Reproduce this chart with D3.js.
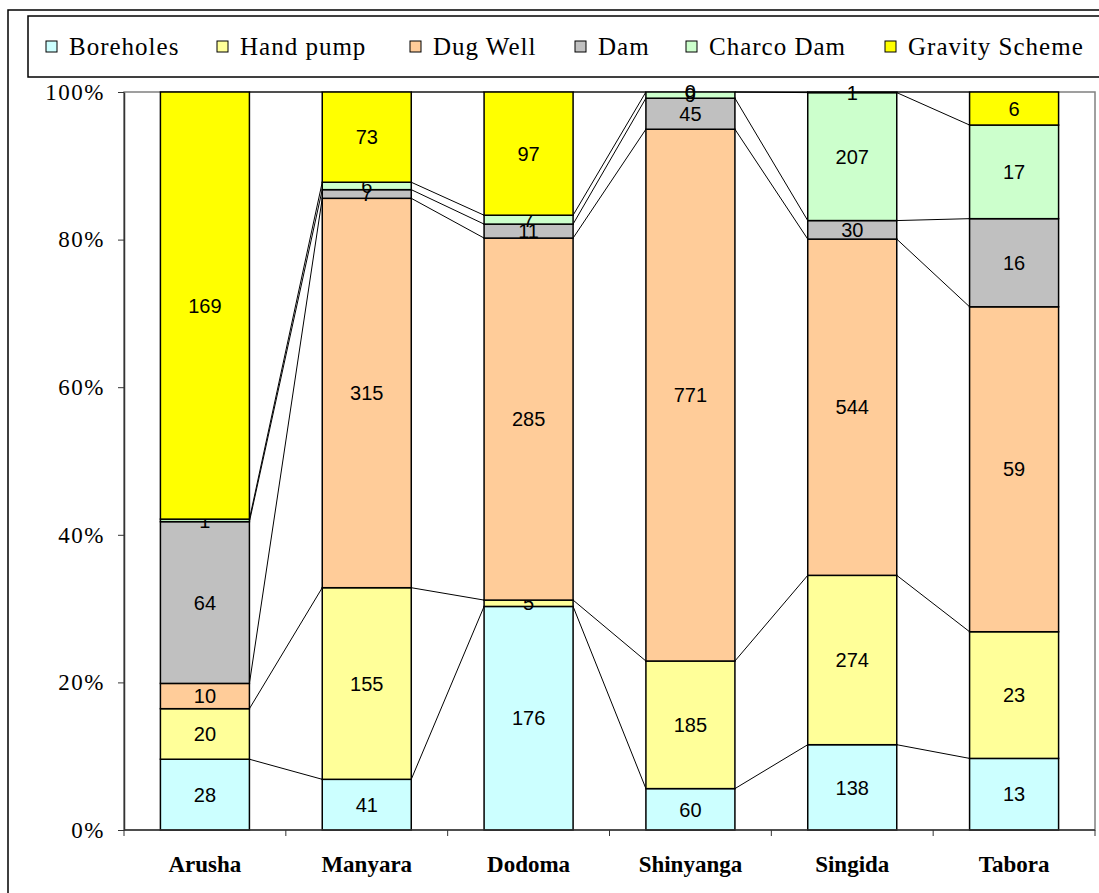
<!DOCTYPE html>
<html>
<head>
<meta charset="utf-8">
<script src="https://cdn.jsdelivr.net/npm/d3@7"></script>
<style>
  body { margin: 0; background: #fff; }
  svg { display: block; }
</style>
</head>
<body>
<svg id="chart" width="1099" height="893"></svg>
<script>
// categories and series
const categories = ["Arusha", "Manyara", "Dodoma", "Shinyanga", "Singida", "Tabora"];
const seriesNames = ["Boreholes", "Hand pump", "Dug Well", "Dam", "Charco Dam", "Gravity Scheme"];
const seriesColors = ["#CCFFFF", "#FFFF99", "#FFCC99", "#C0C0C0", "#CCFFCC", "#FFFF00"];

// counts per region
const boreholes = [28, 41, 176, 60, 138, 13];
const handPump = [20, 155, 5, 185, 274, 23];
const dugWell = [10, 315, 285, 771, 544, 59];
const dam = [64, 7, 11, 45, 30, 16];
const charcoDam = [1, 6, 7, 9, 207, 17];
const gravityScheme = [169, 73, 97, 0, 1, 6];

const yTicks = [0, 0.2, 0.4, 0.6, 0.8, 1];

const seriesValues = [boreholes, handPump, dugWell, dam, charcoDam, gravityScheme];

// build rows for d3.stack
const rows = categories.map((c, i) => {
  const row = { region: c };
  seriesNames.forEach((s, j) => { row[s] = seriesValues[j][i]; });
  return row;
});

const svg = d3.select("#chart");
const serif = "Liberation Serif, Times New Roman, serif";

const plot = { left: 124, right: 1095, top: 92, bottom: 830 };

// outer chart border
svg.append("rect")
  .attr("x", 8).attr("y", 10)
  .attr("width", 1120).attr("height", 900)
  .attr("fill", "none").attr("stroke", "#000").attr("stroke-width", 1.5);

// legend
svg.append("rect")
  .attr("x", 28).attr("y", 16)
  .attr("width", 1100).attr("height", 61)
  .attr("fill", "none").attr("stroke", "#000").attr("stroke-width", 1.5);

const legendX = [46, 217, 410, 575, 686, 885];
const legend = svg.append("g")
  .selectAll("g")
  .data(seriesNames)
  .join("g")
  .attr("transform", (d, i) => `translate(${legendX[i]},0)`);

legend.append("rect")
  .attr("x", 0).attr("y", 41)
  .attr("width", 11).attr("height", 11)
  .attr("fill", (d, i) => seriesColors[i])
  .attr("stroke", "#000").attr("stroke-width", 1);

legend.append("text")
  .attr("x", 23).attr("y", 55)
  .attr("font-family", serif)
  .attr("font-size", "25px")
  .attr("letter-spacing", "1px")
  .attr("fill", "#000")
  .text((d) => d);

// scales
const x = d3.scaleBand()
  .domain(categories)
  .range([plot.left, plot.right])
  .paddingInner(0.45)
  .paddingOuter(0.225);

const y = d3.scaleLinear()
  .domain([0, 1])
  .range([plot.bottom, plot.top]);

const stack = d3.stack()
  .keys(seriesNames)
  .offset(d3.stackOffsetExpand);
const layers = stack(rows);

// plot area border
svg.append("rect")
  .attr("x", plot.left).attr("y", plot.top)
  .attr("width", plot.right - plot.left).attr("height", plot.bottom - plot.top)
  .attr("fill", "none").attr("stroke", "#808080").attr("stroke-width", 1.5);

// series lines between bars
const bw = x.bandwidth();
const seriesLines = [];
layers.forEach((layer) => {
  for (let i = 0; i < layer.length - 1; i++) {
    seriesLines.push({
      x1: x(categories[i]) + bw,
      y1: y(layer[i][1]),
      x2: x(categories[i + 1]),
      y2: y(layer[i + 1][1]),
    });
  }
});

svg.append("g")
  .selectAll("line")
  .data(seriesLines)
  .join("line")
  .attr("x1", (d) => d.x1).attr("y1", (d) => d.y1)
  .attr("x2", (d) => d.x2).attr("y2", (d) => d.y2)
  .attr("stroke", "#000").attr("stroke-width", 1);

// bars
const layerG = svg.append("g")
  .selectAll("g")
  .data(layers)
  .join("g")
  .attr("fill", (d, i) => seriesColors[i]);

layerG.selectAll("rect")
  .data((d) => d)
  .join("rect")
  .attr("x", (d) => x(d.data.region))
  .attr("y", (d) => y(d[1]))
  .attr("width", bw)
  .attr("height", (d) => y(d[0]) - y(d[1]))
  .attr("stroke", "#000")
  .attr("stroke-width", 1.5);

// value labels
layerG.selectAll("text")
  .data((d) => d.map((p) => ({ p: p, key: d.key })))
  .join("text")
  .attr("x", (d) => x(d.p.data.region) + bw / 2)
  .attr("y", (d) => (y(d.p[0]) + y(d.p[1])) / 2)
  .attr("dy", "0.36em")
  .attr("text-anchor", "middle")
  .attr("font-family", "Liberation Sans, Arial, sans-serif")
  .attr("font-size", "20px")
  .attr("fill", "#000")
  .text((d) => d.p.data[d.key]);

// y axis
const yAxis = svg.append("g")
  .attr("transform", `translate(${plot.left},0)`)
  .call(d3.axisLeft(y).tickValues(yTicks).tickFormat(d3.format(".0%")).tickSize(6).tickSizeOuter(0).tickPadding(13));
yAxis.select(".domain").attr("stroke", "#333").attr("stroke-width", 1.5);
yAxis.selectAll(".tick line").attr("stroke", "#333");
yAxis.selectAll("text")
  .attr("font-family", serif)
  .attr("font-size", "23px")
  .attr("letter-spacing", "1.5px")
  .attr("fill", "#000");

// x axis line and boundary ticks
svg.append("line")
  .attr("x1", plot.left).attr("x2", plot.right)
  .attr("y1", plot.bottom).attr("y2", plot.bottom)
  .attr("stroke", "#333").attr("stroke-width", 1.5);

const boundaries = categories.map((c) => x(c) - x.step() * 0.225).concat([plot.right]);
svg.append("g")
  .selectAll("line")
  .data(boundaries)
  .join("line")
  .attr("x1", (d) => d).attr("x2", (d) => d)
  .attr("y1", plot.bottom).attr("y2", plot.bottom + 6)
  .attr("stroke", "#333").attr("stroke-width", 1);

svg.append("g")
  .selectAll("text")
  .data(categories)
  .join("text")
  .attr("x", (d) => x(d) + bw / 2)
  .attr("y", 872)
  .attr("text-anchor", "middle")
  .attr("font-family", serif)
  .attr("font-weight", "bold")
  .attr("font-size", "23px")
  .attr("fill", "#000")
  .text((d) => d);
</script>
</body>
</html>
